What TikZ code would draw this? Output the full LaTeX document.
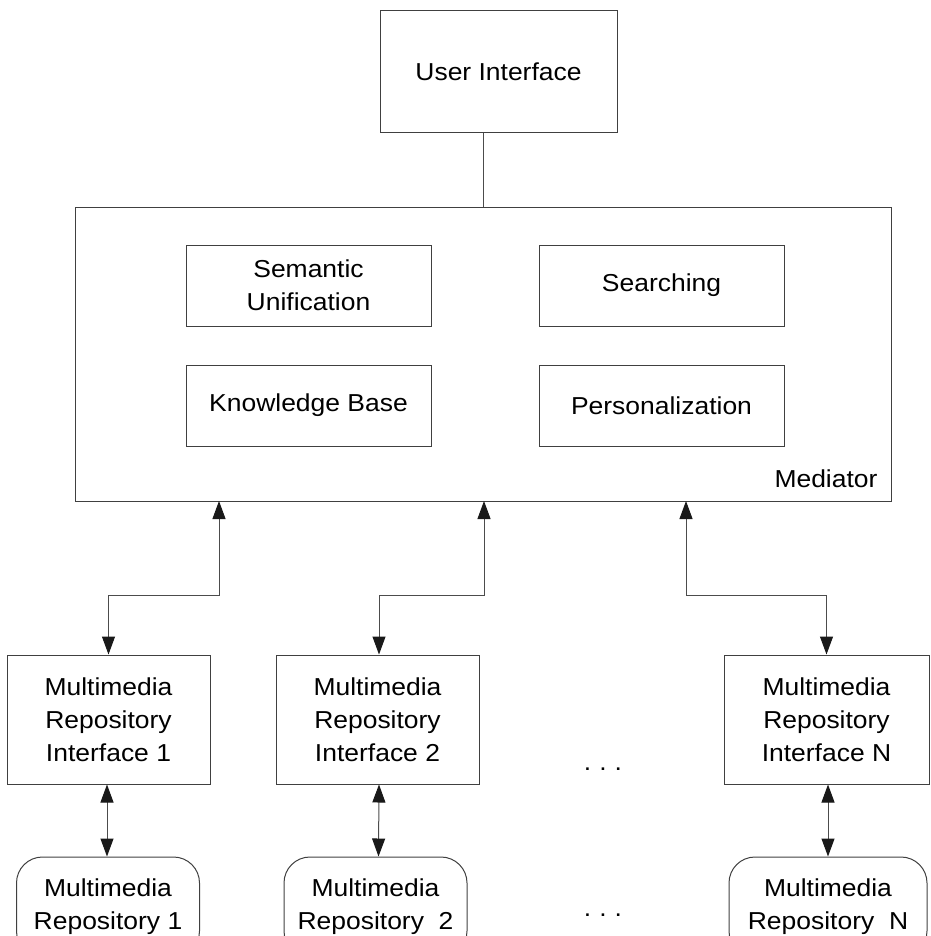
\documentclass[tikz,border=0pt]{standalone}
\usepackage{fontspec}
\setmainfont[FakeStretch=1.08]{Liberation Sans}
\usetikzlibrary{arrows.meta,calc}

\begin{document}
\begin{tikzpicture}[x=1pt,y=-1pt,
    box/.style={draw=black!75,line width=1pt,rectangle,align=center,
      font=\fontsize{24.5}{33}\selectfont},
    repo/.style={box,rounded corners=26pt,minimum height=100pt},
    link/.style={draw=black!70,line width=1pt},
    dlink/.style={link,{Triangle[length=18pt,width=13pt,color=black!90]}-{Triangle[length=18pt,width=13pt,color=black!90]}}]
    \useasboundingbox (0,0) rectangle (930,936);
    \clip (0,0) rectangle (930,936);
    \node[box,minimum width=237pt,minimum height=122pt] (ui) at (498.5,72) {User Interface};
    \node[box,minimum width=816pt,minimum height=294pt] (med) at (483,354) {};
    \node[box,minimum width=245pt,minimum height=81pt] (su) at (308.5,285.5) {Semantic\\Unification};
    \node[box,minimum width=245pt,minimum height=81pt] (se) at (661.5,285.5) {Searching};
    \node[box,minimum width=245pt,minimum height=81pt] (kb) at (308.5,405.5) {Knowledge Base};
    \node[box,minimum width=245pt,minimum height=81pt] (pe) at (661.5,405.5) {Personalization};
    \node[anchor=base east,font=\fontsize{24.5}{33}\selectfont] (medlabel) at (881,487) {Mediator};
    \draw[link] (med.north) -- (med.north |- ui.south);
    % repository interfaces
    \node[box,minimum width=203pt,minimum height=129pt] (i1) at (108.5,719.5) {Multimedia\\Repository\\Interface 1};
    \node[box,minimum width=203pt,minimum height=129pt] (i2) at (377.5,719.5) {Multimedia\\Repository\\Interface 2};
    \node[box,minimum width=205pt,minimum height=129pt] (iN) at (826.5,719.5) {Multimedia\\Repository\\Interface N};
    \node[font=\fontsize{24.5}{33}\selectfont] (dots1) at (603,769) {.\hspace{8pt}.\hspace{8pt}.};
    % repositories
    \node[repo,minimum width=183pt] (r1) at (108,907) {Multimedia\\Repository 1};
    \node[repo,minimum width=183pt] (r2) at (375.5,907) {Multimedia\\Repository\ \ 2};
    \node[repo,minimum width=198pt] (rN) at (828,907) {Multimedia\\Repository\ \ N};
    \node[font=\fontsize{24.5}{33}\selectfont] (dots2) at (603,915) {.\hspace{8pt}.\hspace{8pt}.};
    \coordinate (t1) at (219,501);
    \coordinate (t2) at (484,501);
    \coordinate (t3) at (686,501);
    \draw[dlink] (t1) -- ++(0,94) -| (i1.north);
    \draw[dlink] (t2) -- ++(0,94) -| ([xshift=1.5pt]i2.north);
    \draw[dlink] (t3) -- ++(0,94) -| (iN.north);
    \draw[dlink] ([xshift=-1.5pt]i1.south) -- ([xshift=-1pt]r1.north);
    \draw[dlink] ([xshift=1.5pt]i2.south) -- ([xshift=3pt]r2.north);
    \draw[dlink] ([xshift=1.5pt]iN.south) -- (rN.north);
\end{tikzpicture}
\end{document}
